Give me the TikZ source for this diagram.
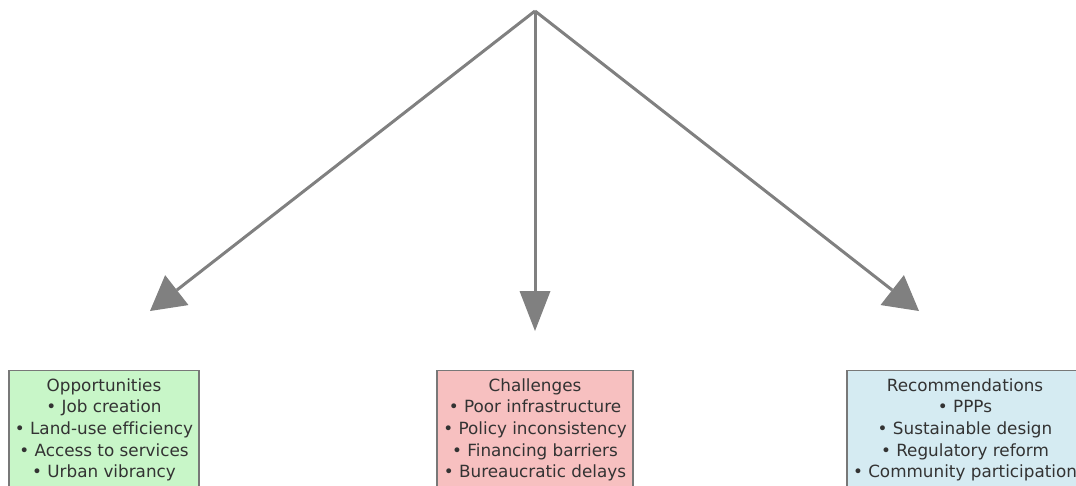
\documentclass[tikz,border=0pt]{standalone}
\usepackage{fontspec}
\setmainfont{DejaVu Sans}[Ligatures=NoCommon]
\usetikzlibrary{arrows.meta}
\definecolor{txt}{RGB}{51,51,51}
\definecolor{edge}{RGB}{120,120,120}
\definecolor{arr}{RGB}{128,128,128}
\definecolor{oppfill}{RGB}{200,246,200}
\definecolor{chafill}{RGB}{247,192,192}
\definecolor{recfill}{RGB}{213,235,242}
\tikzset{
  infobox/.style={draw=edge, line width=1.3pt, anchor=north, align=center,
    text=txt, inner xsep=0pt, inner ysep=7.7pt,
    font=\fontsize{16.8}{21.7}\selectfont},
  sidearrow/.style={draw=arr, line width=3pt,
    -{Triangle[length=34pt, width=38pt, line width=0pt]}},
  midarrow/.style={draw=arr, line width=3pt,
    -{Triangle[length=40pt, width=31pt, line width=0pt]}}
}
\begin{document}
\begin{tikzpicture}[x=1pt,y=-1pt]
\useasboundingbox (0,0) rectangle (1076,485);
\clip (0,0) rectangle (1076,485);
\coordinate (apex) at (535,11);
\coordinate (tipL) at (150,311);
\coordinate (tipC) at (535,331);
\coordinate (tipR) at (919,311);
\draw[sidearrow] (apex) -- (tipL);
\draw[midarrow] (apex) -- (tipC);
\draw[sidearrow] (apex) -- (tipR);
\node[infobox, fill=oppfill, minimum width=190pt] (opp) at (104,370)
  {Opportunities\\• Job creation\\• Land-use efficiency\\• Access to services\\• Urban vibrancy};
\node[infobox, fill=chafill, minimum width=196pt] (cha) at (535,370)
  {Challenges\\• Poor infrastructure\\• Policy inconsistency\\• Financing barriers\\• Bureaucratic delays};
\node[infobox, fill=recfill, minimum width=236pt] (rec) at (965,370)
  {Recommendations\\• PPPs\\• Sustainable design\\• Regulatory reform\\• Community participation};
\end{tikzpicture}
\end{document}
